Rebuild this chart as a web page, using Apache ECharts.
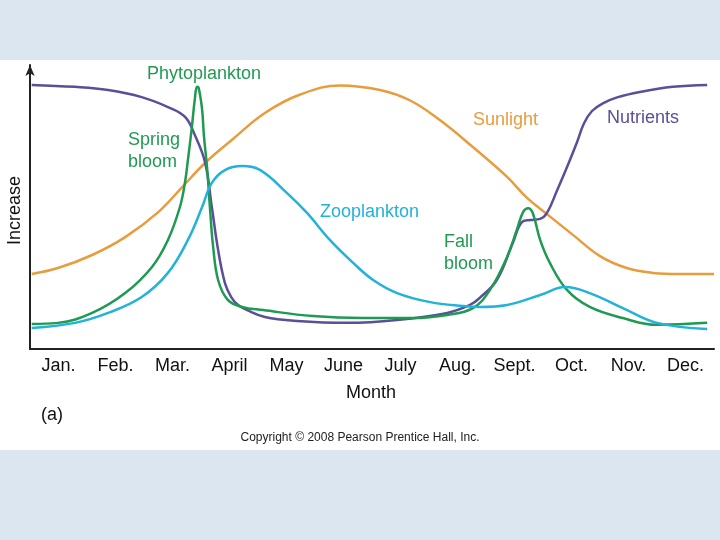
<!DOCTYPE html>
<html>
<head>
<meta charset="utf-8">
<title>Plankton seasonal cycle</title>
<script src="https://cdn.jsdelivr.net/npm/echarts@6/dist/echarts.min.js"></script>
<style>
  html, body { margin: 0; height: 100%; background: #dce6f1; }
  #chart { width: 720px; height: 540px; }
</style>
</head>
<body>
<div id="chart"></div>
<script>
// month labels (category axis)
var months = ['Jan.', 'Feb.', 'Mar.', 'April', 'May', 'June', 'July', 'Aug.', 'Sept.', 'Oct.', 'Nov.', 'Dec.'];

// [month position 0..12, relative level 0..100]
var sunlight = [[0.03,26.4],[0.49,28.5],[1.09,33.1],[1.67,39.4],[2.25,48.2],[2.67,57],[3.07,65.5],[3.54,73.6],
  [4.12,83.1],[4.74,89.6],[5.44,92.8],[6.14,91.2],[6.67,87.5],[7.19,80.6],[7.77,71.1],[8.37,60.6],[8.72,53.2],
  [9.07,47.5],[9.53,40.1],[10,32.7],[10.47,28.5],[10.93,26.8],[11.4,26.4],[12,26.4]];

var nutrients = [[0.03,93],[0.79,92.3],[1.37,91.2],[1.96,88.7],[2.42,85.2],[2.72,81.7],[2.89,75.4],[3.07,65.8],
  [3.19,50],[3.3,34.9],[3.42,23.2],[3.53,18.3],[3.65,15.5],[3.81,13.7],[4.12,11.3],[4.68,9.9],[5.56,9.2],
  [6.44,10.2],[7.32,12.7],[7.72,15.5],[7.89,18],[8.19,24.3],[8.47,37.3],[8.63,44.7],[8.77,45.4],[8.95,45.8],
  [9.07,47.9],[9.25,56],[9.42,64],[9.6,73],[9.72,79.5],[9.86,83.8],[10.05,86.5],[10.3,88.6],[10.7,90.5],[11.28,92.3],[11.88,93]];

var phyto = [[0.03,8.8],[0.49,9.2],[1.09,12.7],[1.67,19.7],[2.14,28.9],[2.42,38.4],[2.63,50],[2.72,58.8],
  [2.77,66.5],[2.84,78.2],[2.89,87.7],[2.93,92.3],[2.96,91.9],[3.02,84.2],[3.05,75.4],[3.11,63],[3.16,48.9],
  [3.21,36.6],[3.3,24.3],[3.47,17.3],[3.72,14.8],[4.09,13.7],[4.96,11.6],[5.84,10.9],[6.72,10.9],[7.32,12],
  [7.77,14.4],[8.07,20.8],[8.37,32.4],[8.54,41.9],[8.65,48.2],[8.74,49.6],[8.82,47.9],[8.95,38.4],[9.12,30.3],
  [9.42,20.8],[9.82,14.8],[10.4,10.9],[11,8.5],[11.88,9.2]];

var zoo = [[0.03,7.4],[0.79,9.2],[1.37,12.7],[1.96,18.3],[2.42,26.8],[2.77,38.4],[3.02,50],[3.19,58.5],[3.42,63],
  [3.72,64.4],[4.04,63],[4.51,54.9],[4.86,47.9],[5.26,38.4],[5.67,30.3],[6.02,24.3],[6.44,19.7],[7.02,16.5],
  [7.6,15.1],[7.89,14.8],[8.37,15.5],[8.95,19],[9.39,21.8],[9.82,19.7],[10.4,14.4],[11,9.2],[11.88,7]];

var GREEN = '#1f9a52', CYAN = '#22b2da', ORANGE = '#e99c3c', PURPLE = '#5a4f98';
var FONT = 'Liberation Sans';

var chart = echarts.init(document.getElementById('chart'));

function line(name, data, color) {
  return {
    name: name, type: 'line', xAxisIndex: 1, data: data,
    smooth: 0.4, showSymbol: false, silent: true,
    lineStyle: { color: color, width: 2.5 }
  };
}
function label(txt, x, y, color, opts) {
  return Object.assign({
    type: 'text', left: x, top: y, z: 10,
    style: { text: txt, fill: color, font: '18px ' + FONT, lineHeight: 22 }
  }, opts || {});
}

chart.setOption({
  animation: false,
  textStyle: { fontFamily: FONT },
  grid: { left: 30, right: 6, top: 65, bottom: 191 },
  xAxis: [{
    type: 'category', data: months, boundaryGap: true,
    axisLine: { lineStyle: { color: '#222', width: 2 } },
    axisTick: { inside: true, length: 13, lineStyle: { color: '#555', width: 1 } },
    axisLabel: { color: '#111', fontSize: 18, margin: 8, fontFamily: FONT }
  }, {
    type: 'value', min: 0, max: 12, show: false
  }],
  yAxis: {
    type: 'value', min: 0, max: 100,
    splitLine: { show: false },
    axisLabel: { show: false },
    axisTick: { show: false },
    axisLine: { show: true, symbol: ['none', 'arrow'], symbolSize: [7, 11], lineStyle: { color: '#222', width: 2 } }
  },
  graphic: [
    { type: 'rect', left: 0, top: 60, z: -10, shape: { width: 720, height: 390 }, style: { fill: '#ffffff' } },
    label('Phytoplankton', 147, 63, GREEN),
    label('Spring\nbloom', 128, 129, GREEN),
    label('Zooplankton', 320, 201, CYAN),
    label('Fall\nbloom', 444, 231, GREEN),
    label('Sunlight', 473, 109, ORANGE),
    label('Nutrients', 607, 107, PURPLE),
    label('Increase', 4, 176, '#111', { rotation: Math.PI / 2 }),
    label('Month', 346, 382, '#111'),
    label('(a)', 41, 404, '#111'),
    { type: 'text', left: 'center', top: 432, style: { text: 'Copyright \u00a9 2008 Pearson Prentice Hall, Inc.', fill: '#222', font: '12px ' + FONT } }
  ],
  series: [
    line('Sunlight', sunlight, ORANGE),
    line('Nutrients', nutrients, PURPLE),
    line('Phytoplankton', phyto, GREEN),
    line('Zooplankton', zoo, CYAN)
  ]
});
</script>
</body>
</html>
